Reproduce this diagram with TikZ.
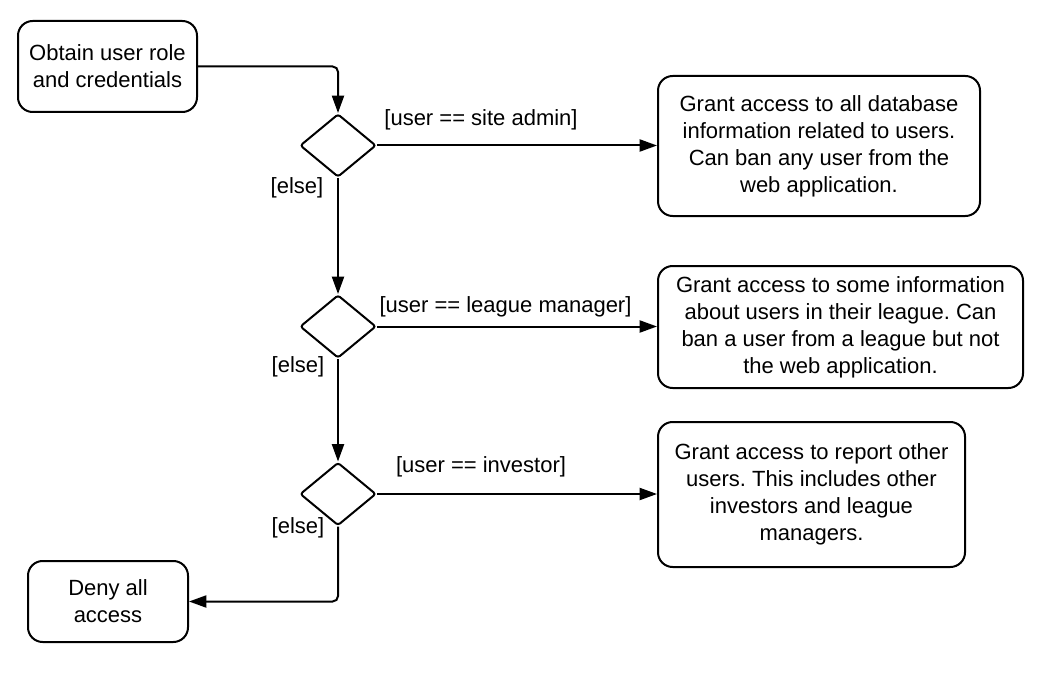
\documentclass[tikz,border=0pt]{standalone}
\usepackage{fontspec}
\setmainfont{Liberation Sans}
\frenchspacing
\usetikzlibrary{shapes.geometric,arrows.meta}
\begin{document}
\begin{tikzpicture}[x=0.75pt,y=-0.75pt,
  box/.style={draw,line width=1.5pt,rounded corners=11pt,inner sep=0pt,align=center,
     font=\fontsize{16.5}{20.25}\selectfont},
  dec/.style={draw,diamond,line width=1.5pt,rounded corners=2pt,inner sep=0pt,
     minimum width=57pt,minimum height=47.25pt},
  lbl/.style={inner sep=0pt,font=\fontsize{16.5}{20.25}\selectfont},
  arr/.style={line width=1.5pt,rounded corners=4pt,-{Triangle[length=13pt,width=9pt]}}]
\useasboundingbox (0,0) rectangle (1044,677);
\node[box,minimum width=134.25pt,minimum height=68.25pt] (start) at (107.5,66.5) {Obtain user role\\and credentials};
\node[box,minimum width=241.5pt,minimum height=105pt] (g1) at (819,146) {Grant access to all database\\information related to users.\\Can ban any user from the\\web application.};
\node[box,minimum width=273.75pt,minimum height=91.5pt] (g2) at (840.5,327) {Grant access to some information\\about users in their league. Can\\ban a user from a league but not\\the web application.};
\node[box,minimum width=230.25pt,minimum height=108.75pt] (g3) at (811.5,494.5) {Grant access to report other\\users. This includes other\\investors and league\\managers.};
\node[box,minimum width=120pt,minimum height=60.75pt] (deny) at (108,601.5) {Deny all\\access};
\node[dec] (d1) at (338,145.5) {};
\node[dec] (d2) at (338,326.5) {};
\node[dec] (d3) at (338,494) {};
\node[lbl] (l1) at (481,120) {[user == site admin]};
\node[lbl] (l2) at (505.5,307) {[user == league manager]};
\node[lbl] (l3) at (481,467) {[user == investor]};
\node[lbl] (e1) at (297,188) {[else]};
\node[lbl] (e2) at (298,367) {[else]};
\node[lbl] (e3) at (298,528) {[else]};
\draw[arr] (start.east) -| (d1.north);
\draw[arr] (d1.east) -- (g1.west |- d1.east);
\draw[arr] (d1.south) -- (d2.north);
\draw[arr] (d2.east) -- (g2.west |- d2.east);
\draw[arr] (d2.south) -- (d3.north);
\draw[arr] (d3.east) -- (g3.west |- d3.east);
\draw[arr] (d3.south) |- (deny.east);
\end{tikzpicture}
\end{document}
